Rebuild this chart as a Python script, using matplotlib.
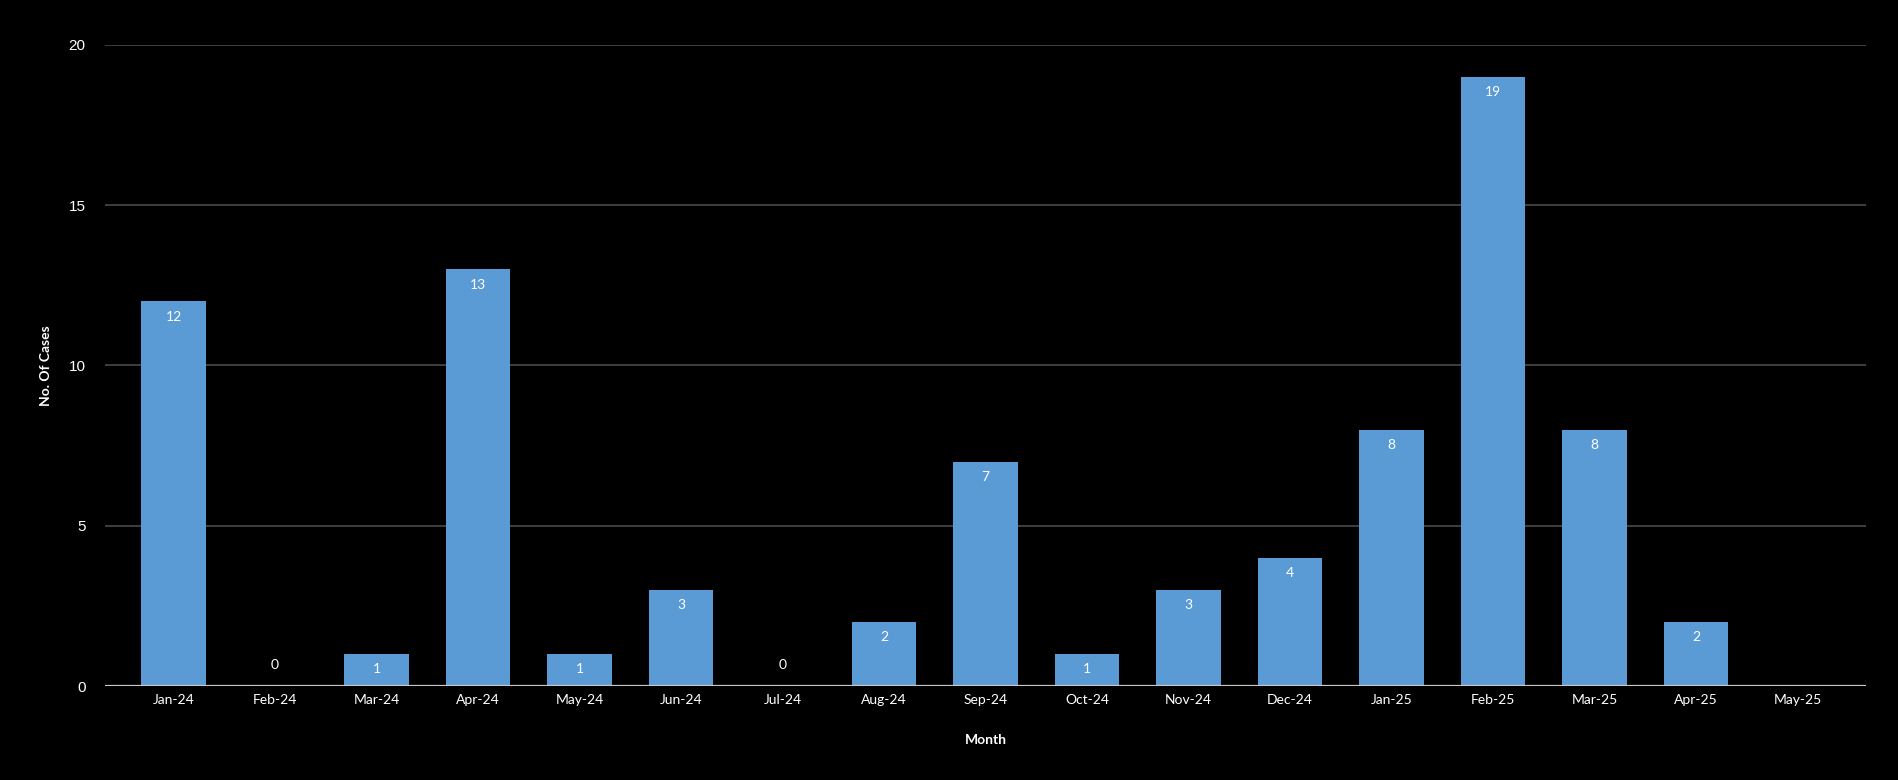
import numpy as np
from matplotlib import pyplot as plt

# data
months = ['Jan-24', 'Feb-24', 'Mar-24', 'Apr-24', 'May-24', 'Jun-24', 'Jul-24',
          'Aug-24', 'Sep-24', 'Oct-24', 'Nov-24', 'Dec-24', 'Jan-25', 'Feb-25',
          'Mar-25', 'Apr-25', 'May-25']
cases = [12, 0, 1, 13, 1, 3, 0, 2, 7, 1, 3, 4, 8, 19, 8, 2, None]
yticks = [0, 5, 10, 15, 20]

x = np.arange(len(months))
vals = np.array([np.nan if v is None else v for v in cases], dtype=float)

fig = plt.figure(figsize=(18.99, 7.8), dpi=100, facecolor='black')
ax = fig.add_axes([105/1899, 1 - 686/780, (1866-105)/1899, (686-45)/780])
ax.set_facecolor('black')

bars = ax.bar(x, np.nan_to_num(vals), width=0.64, color='#5B9BD5', zorder=3)

# value labels: inside the top of bar, or above the axis for zero
for xi, v in zip(x, vals):
    if np.isnan(v):
        continue
    if v > 0:
        ax.annotate(str(int(v)), (xi, v), xytext=(0, -11), textcoords='offset points',
                    ha='center', va='center', color='white', fontsize=10, family='Lato')
    else:
        ax.annotate(str(int(v)), (xi, 0), xytext=(0, 15), textcoords='offset points',
                    ha='center', va='center', color='white', fontsize=10, family='Lato')

ax.set_xlim(-0.675, len(months) - 1 + 0.675)
ax.set_ylim(0, 20)
ax.set_yticks(yticks)
ax.set_yticklabels([str(t) for t in yticks], color='white', fontsize=11, family='Liberation Sans')
ax.set_xticks(x)
ax.set_xticklabels(months, color='white', fontsize=10, family='Lato')
ax.tick_params(axis='both', length=0)
ax.tick_params(axis='y', pad=14)
ax.tick_params(axis='x', pad=6)

ax.grid(axis='y', color='#4a4a4a', linewidth=1.2, zorder=0)
ax.axhline(0, color='#c8c8c8', linewidth=1.6, zorder=4)
for s in ax.spines.values():
    s.set_visible(False)

ax.set_xlabel('Month', color='white', fontsize=10, fontweight='bold', family='Lato', labelpad=20)
ax.set_ylabel('No. Of Cases', color='white', fontsize=10, fontweight='bold', family='Lato', labelpad=12)

fig.savefig('out.png', dpi=100, facecolor='black')
